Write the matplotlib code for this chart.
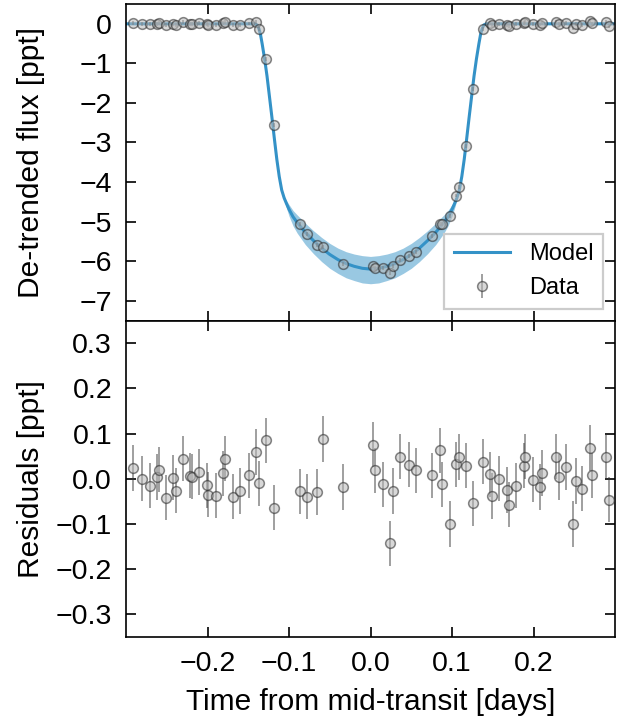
import numpy as np
import matplotlib
matplotlib.use("Agg")
import matplotlib.pyplot as plt

plt.rcParams['font.family'] = ['Liberation Sans', 'DejaVu Sans']
plt.rcParams['axes.unicode_minus'] = True

# ---------------- data ----------------
time = [-0.292, -0.280, -0.271, -0.262, -0.259, -0.251, -0.242, -0.239, -0.230, -0.222,
        -0.219, -0.210, -0.201, -0.199, -0.189, -0.181, -0.178, -0.169, -0.160, -0.149,
        -0.140, -0.137, -0.1285, -0.119, -0.087, -0.078, -0.066, -0.058, -0.034, 0.003,
        0.006, 0.015, 0.024, 0.027, 0.036, 0.047, 0.056, 0.076, 0.085, 0.088,
        0.097, 0.105, 0.108, 0.117, 0.126, 0.138, 0.146, 0.149, 0.158, 0.167,
        0.170, 0.179, 0.188, 0.190, 0.199, 0.208, 0.211, 0.228, 0.231, 0.240,
        0.249, 0.252, 0.260, 0.269, 0.272, 0.289, 0.292]

flux = [0.024, 0.000, -0.015, 0.004, 0.020, -0.042, 0.002, -0.026, 0.044, 0.007,
        0.005, 0.015, -0.014, -0.035, -0.037, 0.012, 0.044, -0.040, -0.027, 0.008,
        0.04, -0.14, -0.89, -2.55, -5.06, -5.31, -5.59, -5.63, -6.06, -6.12,
        -6.17, -6.17, -6.31, -6.12, -5.97, -5.87, -5.76, -5.37, -5.07, -5.05,
        -4.85, -4.34, -4.13, -3.10, -1.65, -0.12, 0.010, -0.038, 0.000, -0.025,
        -0.057, -0.015, 0.029, 0.049, -0.002, -0.018, 0.013, 0.049, 0.004, 0.026,
        -0.100, -0.005, -0.022, 0.068, 0.008, 0.049, -0.046]

residual = [0.024, 0.000, -0.015, 0.004, 0.020, -0.042, 0.002, -0.026, 0.044, 0.007,
            0.005, 0.015, -0.014, -0.035, -0.037, 0.012, 0.044, -0.040, -0.027, 0.008,
            0.059, -0.010, 0.085, -0.064, -0.028, -0.040, -0.029, 0.088, -0.018, 0.075,
            0.019, -0.012, -0.143, -0.027, 0.049, 0.031, 0.019, 0.008, 0.063, -0.012,
            -0.100, 0.032, 0.048, 0.029, -0.054, 0.038, 0.010, -0.038, 0.000, -0.025,
            -0.057, -0.015, 0.029, 0.049, -0.002, -0.018, 0.013, 0.049, 0.004, 0.026,
            -0.100, -0.005, -0.022, 0.068, 0.008, 0.049, -0.046]

flux_err = 0.05

model_time = [-0.300, -0.142, -0.139, -0.137, -0.135, -0.133, -0.130, -0.127, -0.124, -0.121,
              -0.118, -0.115, -0.112, -0.109, -0.106, -0.103, -0.100, -0.095, -0.090, -0.085,
              -0.080, -0.070, -0.060, -0.050, -0.040, -0.030, -0.020, -0.010, 0.000,
              0.010, 0.020, 0.030, 0.040, 0.050, 0.060, 0.070, 0.080, 0.085, 0.090,
              0.095, 0.100, 0.103, 0.106, 0.109, 0.112, 0.115, 0.118, 0.121, 0.124,
              0.127, 0.130, 0.133, 0.135, 0.137, 0.139, 0.142, 0.300]
model_flux = [0.0, 0.0, -0.03, -0.12, -0.27, -0.50, -0.88, -1.32, -1.84, -2.36,
              -2.90, -3.42, -3.86, -4.20, -4.40, -4.55, -4.69, -4.88, -5.02, -5.15,
              -5.27, -5.48, -5.67, -5.83, -5.96, -6.06, -6.13, -6.18, -6.20,
              -6.18, -6.13, -6.06, -5.96, -5.83, -5.67, -5.48, -5.27, -5.15, -5.02,
              -4.88, -4.69, -4.55, -4.40, -4.20, -3.86, -3.42, -2.90, -2.36, -1.84,
              -1.32, -0.88, -0.50, -0.27, -0.12, -0.03, 0.0, 0.0]

band_time = [-0.108, -0.104, -0.100, -0.095, -0.090, -0.080, -0.070, -0.060, -0.050, -0.040,
             -0.030, -0.020, -0.010, 0.000, 0.010, 0.020, 0.030, 0.040, 0.050, 0.060,
             0.070, 0.080, 0.090, 0.095, 0.100, 0.104, 0.108]
band_hi = [-4.27, -4.44, -4.57, -4.72, -4.83, -5.04, -5.23, -5.40, -5.55, -5.67,
           -5.76, -5.82, -5.86, -5.88, -5.86, -5.82, -5.76, -5.67, -5.55, -5.40,
           -5.23, -5.04, -4.83, -4.72, -4.57, -4.44, -4.27]
band_lo = [-4.27, -4.60, -4.86, -5.11, -5.29, -5.58, -5.81, -6.01, -6.18, -6.31,
           -6.42, -6.49, -6.55, -6.57, -6.55, -6.49, -6.42, -6.31, -6.18, -6.01,
           -5.81, -5.58, -5.29, -5.11, -4.86, -4.60, -4.27]

flux_ticks = [0, -1, -2, -3, -4, -5, -6, -7]
resid_ticks = [0.3, 0.2, 0.1, 0.0, -0.1, -0.2, -0.3]
time_ticks = [-0.2, -0.1, 0.0, 0.1, 0.2]


def fmt1(v):
    return f'{v:.1f}'.replace('-', '\u2212')


# ---------------- styling ----------------
model_color = '#3492c7'
TICK_FS = 20.5
LABEL_FS = 21.5
LEGEND_FS = 17

fig = plt.figure(figsize=(6.31, 7.19), dpi=100)
ax1 = fig.add_axes([0.1997, 0.5542, 0.775, 0.4402])
ax2 = fig.add_axes([0.1997, 0.1140, 0.775, 0.4402], sharex=ax1)

err_kw = dict(fmt='o', ms=7, color='0.2', mfc='0.72', mec='0.15', mew=1.1,
              ecolor='0.2', elinewidth=1.2, capsize=0, alpha=0.55)

ax1.fill_between(band_time, band_lo, band_hi, color=model_color, alpha=0.5,
                 lw=0, zorder=1)
ax1.plot(model_time, model_flux, color=model_color, lw=2.2, zorder=2, label='Model')
ax1.errorbar(time, flux, yerr=flux_err, zorder=3, label='Data', **err_kw)

ax2.errorbar(time, residual, yerr=flux_err, zorder=3, **err_kw)

ax1.set_ylim(-7.5, 0.5)
ax1.set_yticks(flux_ticks)
ax1.set_yticklabels([str(v).replace('-', '\u2212') for v in flux_ticks])
ax2.set_ylim(-0.35, 0.35)
ax2.set_yticks(resid_ticks)
ax2.set_yticklabels([fmt1(v) for v in resid_ticks])
ax1.set_xlim(-0.3, 0.3)
ax2.set_xticks(time_ticks)
ax2.set_xticklabels([fmt1(v) for v in time_ticks])

for ax in (ax1, ax2):
    for s in ax.spines.values():
        s.set_linewidth(1.2)
    ax.tick_params(direction='in', top=True, right=True, length=7.5, width=1.2,
                   labelsize=TICK_FS, pad=10)
ax1.tick_params(labelbottom=False)

ax1.set_ylabel('De-trended flux [ppt]', fontsize=LABEL_FS)
ax2.set_ylabel('Residuals [ppt]', fontsize=LABEL_FS)
ax2.set_xlabel('Time from mid-transit [days]', fontsize=LABEL_FS, labelpad=8)
ax1.yaxis.set_label_coords(-0.165, 0.5)
ax2.yaxis.set_label_coords(-0.165, 0.5)

leg = ax1.legend(loc='lower right', fontsize=LEGEND_FS, fancybox=False,
                 framealpha=1, edgecolor='0.8', handlelength=2.4,
                 borderaxespad=0.5)
leg.get_frame().set_linewidth(1.6)

fig.savefig('out.png', dpi=100)
